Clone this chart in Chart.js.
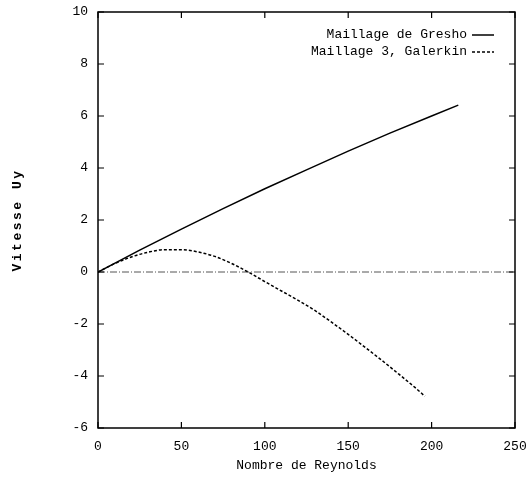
<!DOCTYPE html>
<html>
<head>
<meta charset="utf-8">
<script src="https://cdn.jsdelivr.net/npm/chart.js@4"></script>
<style>
    html, body { margin: 0; padding: 0; background: #fff; }
    #wrap { width: 528px; height: 480px; }
</style>
</head>
<body>
<div id="wrap"><canvas id="chart" width="528" height="480"></canvas></div>
<script>
// Data
const greshoX = [0, 25, 50, 75, 100, 125, 150, 175, 200, 216];
const greshoY = [0, 0.84, 1.65, 2.44, 3.2, 3.93, 4.65, 5.34, 6.0, 6.42];

const galerkinX = [0, 10, 20, 30, 40, 50, 60, 70, 80, 90, 100, 110, 120, 130, 140, 150, 160, 170, 180, 190, 196];
const galerkinY = [0, 0.32, 0.58, 0.76, 0.86, 0.86, 0.77, 0.6, 0.33, 0, -0.37, -0.73, -1.09, -1.48, -1.93, -2.4, -2.89, -3.39, -3.91, -4.44, -4.78];

const zeroX = [0, 250];
const zeroY = [0, 0];

const xTicks = [0, 50, 100, 150, 200, 250];
const yTicks = [-6, -4, -2, 0, 2, 4, 6, 8, 10];

const labels = ['Maillage de Gresho', 'Maillage 3, Galerkin'];
const FONT = '"Liberation Mono", "DejaVu Sans Mono", monospace';

const toPoints = (xs, ys) => xs.map((x, i) => ({ x: x, y: ys[i] }));

// frame, inward ticks, legend and y title
const framePlugin = {
    id: 'frame',
    afterDraw(chart) {
        const ctx = chart.ctx;
        const a = chart.chartArea;
        const xs = chart.scales.x;
        const ys = chart.scales.y;
        ctx.save();
        ctx.strokeStyle = '#000';
        ctx.lineWidth = 1.5;
        ctx.strokeRect(a.left, a.top, a.right - a.left, a.bottom - a.top);

        ctx.lineWidth = 1.2;
        ctx.beginPath();
        xTicks.forEach(v => {
            const px = xs.getPixelForValue(v);
            ctx.moveTo(px, a.bottom); ctx.lineTo(px, a.bottom - 6);
            ctx.moveTo(px, a.top); ctx.lineTo(px, a.top + 6);
        });
        yTicks.forEach(v => {
            const py = ys.getPixelForValue(v);
            ctx.moveTo(a.left, py); ctx.lineTo(a.left + 6, py);
            ctx.moveTo(a.right, py); ctx.lineTo(a.right - 6, py);
        });
        ctx.stroke();

        // legend, text right aligned with sample on the right
        ctx.font = '13px ' + FONT;
        ctx.fillStyle = '#000';
        ctx.textAlign = 'right';
        ctx.textBaseline = 'middle';
        labels.forEach((lab, i) => {
            const ds = chart.data.datasets[i];
            const y = 35 + i * 17;
            ctx.fillText(lab, 467, y);
            ctx.beginPath();
            ctx.lineWidth = ds.borderWidth;
            ctx.setLineDash(ds.borderDash || []);
            ctx.moveTo(472, y);
            ctx.lineTo(494, y);
            ctx.stroke();
        });
        ctx.setLineDash([]);

        // y axis title with letter spacing
        ctx.translate(18, (a.top + a.bottom) / 2);
        ctx.rotate(-Math.PI / 2);
        ctx.textAlign = 'center';
        ctx.font = 'bold 13px ' + FONT;
        ctx.letterSpacing = '2.5px';
        ctx.fillText('Vitesse Uy', 0, 0);
        ctx.restore();
    }
};

new Chart(document.getElementById('chart').getContext('2d'), {
    type: 'scatter',
    data: {
        datasets: [
            {
                label: labels[0],
                data: toPoints(greshoX, greshoY),
                showLine: true,
                borderColor: '#000',
                borderWidth: 1.5,
                pointRadius: 0,
                tension: 0
            },
            {
                label: labels[1],
                data: toPoints(galerkinX, galerkinY),
                showLine: true,
                borderColor: '#000',
                borderWidth: 1.5,
                borderDash: [3, 2],
                pointRadius: 0,
                cubicInterpolationMode: 'monotone'
            },
            {
                label: 'zero',
                data: toPoints(zeroX, zeroY),
                showLine: true,
                borderColor: '#555',
                borderWidth: 1,
                borderDash: [7, 2, 1, 2],
                pointRadius: 0
            }
        ]
    },
    options: {
        responsive: false,
        animation: false,
        layout: { padding: { top: 12, right: 13, left: 0, bottom: 0 } },
        plugins: {
            legend: { display: false },
            tooltip: { enabled: false }
        },
        scales: {
            x: {
                type: 'linear',
                min: 0,
                max: 250,
                afterBuildTicks: s => { s.ticks = xTicks.map(v => ({ value: v })); },
                afterFit: s => {
                    s.height = 52;
                    s.paddingLeft = 0;
                    s.paddingRight = 0;
                },
                grid: { display: false, drawTicks: false },
                border: { display: false },
                ticks: {
                    color: '#000',
                    padding: 11,
                    maxRotation: 0,
                    font: { family: FONT, size: 13 }
                },
                title: {
                    display: true,
                    text: 'Nombre de Reynolds',
                    color: '#000',
                    padding: { top: 0, bottom: 7 },
                    font: { family: FONT, size: 13 }
                }
            },
            y: {
                type: 'linear',
                min: -6,
                max: 10,
                afterBuildTicks: s => { s.ticks = yTicks.map(v => ({ value: v })); },
                afterFit: s => {
                    s.width = 98;
                    s.paddingTop = 0;
                    s.paddingBottom = 0;
                },
                grid: { display: false, drawTicks: false },
                border: { display: false },
                ticks: {
                    color: '#000',
                    padding: 10,
                    font: { family: FONT, size: 13 }
                }
            }
        }
    },
    plugins: [framePlugin]
});
</script>
</body>
</html>
